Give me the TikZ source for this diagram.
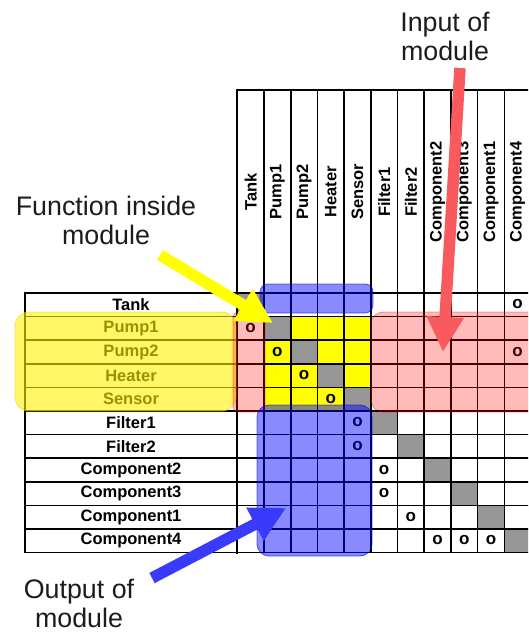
\documentclass[tikz,border=0pt]{standalone}
\usepackage{fontspec}
\setmainfont{Liberation Sans}
\usetikzlibrary{arrows.meta}

\definecolor{cellgray}{RGB}{150,150,150}
\definecolor{cellyellow}{RGB}{255,255,0}
\definecolor{arrowred}{RGB}{248,90,94}
\definecolor{arrowblue}{RGB}{58,58,250}
\definecolor{arrowyellow}{RGB}{255,255,0}
\definecolor{inkgray}{RGB}{28,28,28}

\tikzset{
  gridline/.style={draw=black, line width=1.6pt},
  heavyline/.style={draw=black, line width=2.3pt},
  collabel/.style={rotate=90, inner sep=0pt, font=\bfseries\fontsize{16.5}{18}\selectfont},
  rowlabel/.style={inner sep=0pt, font=\bfseries\fontsize{16.5}{18}\selectfont},
  omark/.style={inner sep=0pt, font=\bfseries\fontsize{17}{18}\selectfont},
  note/.style={inner sep=0pt, align=center, text=inkgray, font=\fontsize{26.8}{29}\selectfont},
  yellowzone/.style={fill=yellow, fill opacity=0.6, draw=yellow!85!black, draw opacity=0.5, line width=0.8pt, rounded corners=14pt},
  pinkzone/.style={fill=red, fill opacity=0.27, draw=red!80!black, draw opacity=0.35, line width=0.8pt},
  bluezone/.style={fill=blue, fill opacity=0.46, draw=blue!80!black, draw opacity=0.6, line width=0.8pt},
  bigarrow/.style={line width=11.5pt, -{Triangle[width=35pt,length=35pt]}},
}

\begin{document}
\begin{tikzpicture}[x=1pt,y=-1pt]
  \useasboundingbox (0,0) rectangle (528,636);
  \fill[white] (0,0) rectangle (528,636);
  \clip (0,0) rectangle (528,636);

  % cell fills: module block in yellow, diagonal in gray
  \fill[cellyellow] ({237.3+26.7*1},{293+23.6*1}) rectangle ++(106.8,94.4);
  \foreach \k in {0,...,10}
    \fill[cellgray] ({237.3+26.7*\k},{293+23.6*\k}) rectangle ++(26.7,23.6);

  % grid
  \foreach \i in {1,...,11}
    \draw[gridline] ({237.3+26.7*\i},90) -- ({237.3+26.7*\i},552.6);
  \draw[heavyline] (237.3,90) -- (237.3,553.7);
  \draw[gridline] (236.2,90) -- (540,90);
  \foreach \j in {1,...,11}
    \draw[gridline] (25,{293+23.6*\j}) -- (540,{293+23.6*\j});
  \draw[heavyline] (24,293) -- (540,293);
  \draw[gridline] (25,293) -- (25,553.3);

  % column headers
  \foreach \n [count=\i from 0] in {Tank,Pump1,Pump2,Heater,Sensor,Filter1,Filter2,Component2,Component3,Component1,Component4}
    \node[collabel] (c\i) at ({237.3+26.7*\i+13.35},192) {\n};

  % row headers
  \foreach \n [count=\j from 0] in {Tank,Pump1,Pump2,Heater,Sensor,Filter1,Filter2,Component2,Component3,Component1,Component4}
    \node[rowlabel] (r\j) at (131,{293+23.6*\j+11.8}) {\n};

  % dependency marks (column/row)
  \foreach \c/\r [count=\m] in {10/0,0/1,1/2,10/2,2/3,3/4,4/5,4/6,5/7,5/8,6/9,7/10,8/10,9/10}
    \node[omark] (o\m) at ({237.3+26.7*\c+13.35},{293+23.6*\r+11.4}) {o};

  % highlighted zones
  \path[yellowzone] (15,312) rectangle (236,411);
  \path[pinkzone, rounded corners=5pt] (233,312) rectangle (265,412);
  \path[pinkzone, rounded corners=12pt] (371,312) rectangle (550,412);
  \path[bluezone, rounded corners=8pt] (260,284) rectangle (373,313);
  \path[bluezone, rounded corners=12pt] (257,405) rectangle (372,556);

  % annotations
  \node[note] (inlabel) at (445,36) {Input of\\module};
  \node[note] (fnlabel) at (106,220) {Function inside\\module};
  \node[note] (outlabel) at (79,603) {Output of\\module};

  \coordinate (ytail) at (160,255);
  \coordinate (ytip) at (273,323);
  \coordinate (rtail) at (460,68);
  \coordinate (rtip) at (443,352);
  \coordinate (btail) at (152,578);
  \coordinate (btip) at (286,508);

  \draw[bigarrow, arrowyellow] (ytail) -- (ytip);
  \draw[bigarrow, arrowred] (rtail) -- (rtip);
  \draw[bigarrow, arrowblue] (btail) -- (btip);
\end{tikzpicture}
\end{document}
